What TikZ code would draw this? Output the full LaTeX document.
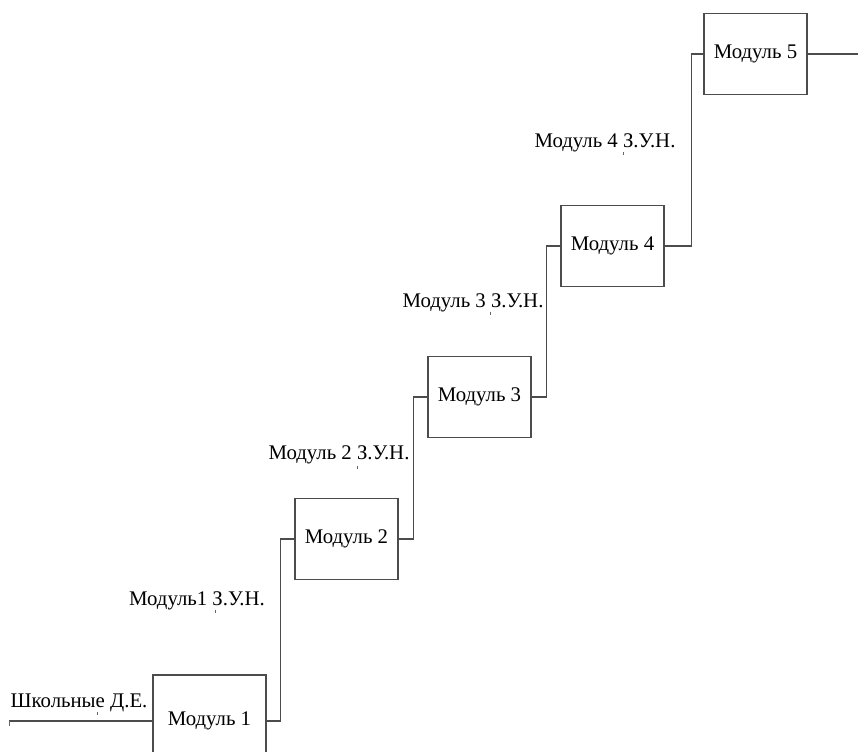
\documentclass[tikz,border=0pt]{standalone}
\usepackage{fontspec}
\setmainfont{Liberation Serif}
\usetikzlibrary{positioning}

\begin{document}
\begin{tikzpicture}[
      x=0.75pt, y=-0.75pt,
      module/.style={rectangle, draw=black!70, line width=0.8pt, minimum width=77.25pt, minimum height=60.75pt, inner sep=0pt, font=\fontsize{15.6}{18}\selectfont},
      zun/.style={anchor=base, inner sep=0pt, font=\fontsize{15.6}{18}\selectfont},
      link/.style={draw=black!70, line width=0.8pt},
      tickmark/.style={draw=black!60, line width=0.6pt}
    ]
      \useasboundingbox (0,0) rectangle (858,752);

      % modules, one step up and to the right each time
      \node[module, minimum width=84.75pt, minimum height=69pt] (m1) at (209.5,721) {Модуль 1};
      \node[module] (m2) at (346.5,539) {Модуль 2};
      \node[module] (m3) at (479.5,397) {Модуль 3};
      \node[module] (m4) at (612.5,246) {Модуль 4};
      \node[module] (m5) at (755.5,54) {Модуль 5};

      \coordinate (in) at (9,721);
      \coordinate (out) at (858,54);

      % labels over the connectors
      \node[zun] (l0) at (79,707) {Школьные Д.Е.};
      \node[zun] (l1) at (197,605) {Модуль1 З.У.Н.};
      \node[zun] (l2) at (339,460) {Модуль 2 З.У.Н.};
      \node[zun] (l3) at (473,308) {Модуль 3 З.У.Н.};
      \node[zun] (l4) at (605,148) {Модуль 4 З.У.Н.};

      \draw[link] (in) -- (m1.west);
      \draw[link] (m1.east) -- ++(14,0) |- (m2.west);
      \draw[link] (m2.east) -- ++(15,0) |- (m3.west);
      \draw[link] (m3.east) -- ++(15,0) |- (m4.west);
      \draw[link] (m4.east) -- ++(27,0) |- (m5.west);
      \draw[link] (m5.east) -- (out);

      % small marks
      \draw[tickmark] (in) -- ++(0,5);
      \draw[tickmark] (97,712) -- ++(0,3);
      \draw[tickmark] (215,610) -- ++(0,3);
      \draw[tickmark] (357,466) -- ++(0,3);
      \draw[tickmark] (490,312) -- ++(0,3);
      \draw[tickmark] (623,152) -- ++(0,3);
    \end{tikzpicture}
\end{document}
